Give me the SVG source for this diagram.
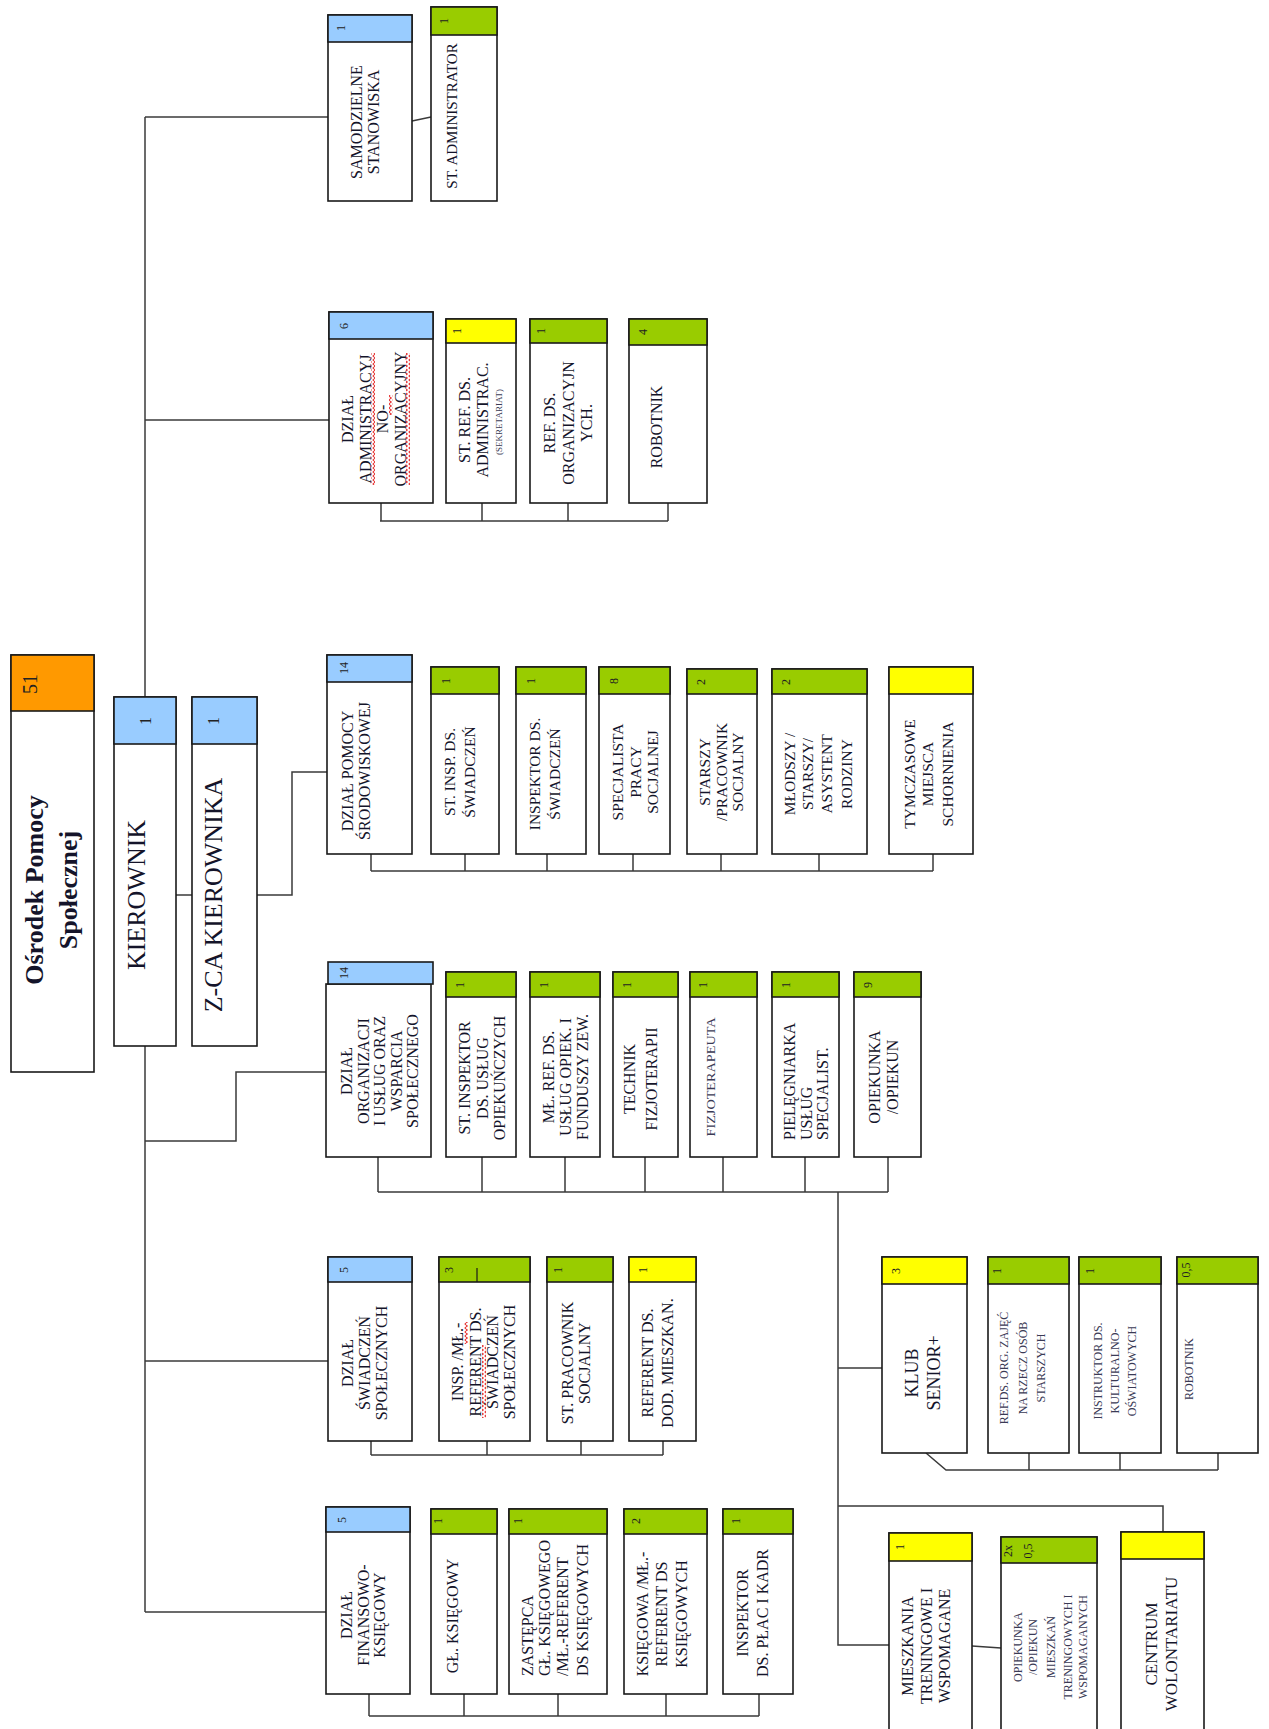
<svg xmlns="http://www.w3.org/2000/svg" width="1269" height="1729" viewBox="0 0 1269 1729">
<style>
.b{fill:#fff;stroke:#1a1a1a;stroke-width:1.6}
.hb{fill:#99ccff;stroke:#1a1a1a;stroke-width:1.6}
.hg{fill:#99cc00;stroke:#1a1a1a;stroke-width:1.6}
.hy{fill:#ffff00;stroke:#1a1a1a;stroke-width:1.6}
.ho{fill:#ff9900;stroke:#1a1a1a;stroke-width:1.6}
.t{font-family:"Liberation Serif","Times New Roman",serif;font-size:16px;fill:#14142a}
.s{font-family:"Liberation Serif","Times New Roman",serif;font-size:12px;fill:#3a3a55}
.n{font-family:"Liberation Serif","Times New Roman",serif;font-size:12px;fill:#222}
.c{fill:none;stroke:#3a3a3a;stroke-width:1.5}
.w{fill:url(#wavy)}
</style>
<defs>
<pattern id="wavy" width="4" height="4" patternUnits="userSpaceOnUse">
<path d="M0.5,0 L3.5,2 L0.5,4" fill="none" stroke="#e00000" stroke-width="0.9"/>
</pattern>
</defs>
<rect width="1269" height="1729" fill="#fff"/>

<g id="connectors">
<path class="c" d="M145,117 V1612"/>
<path class="c" d="M145,117 H328"/>
<path class="c" d="M412,121 L431,117"/>
<path class="c" d="M145,420 H329"/>
<path class="c" d="M176,895 H192"/>
<path class="c" d="M257,895 H292 V772 H327"/>
<path class="c" d="M145,1141 H236 V1072 H326"/>
<path class="c" d="M145,1361 H328"/>
<path class="c" d="M145,1612 H326"/>
<path class="c" d="M381,503 V521 M482,503 V521 M568,503 V521 M668,503 V521 M380,521 H668"/>
<path class="c" d="M371,854 V871 M465,854 V871 M547,854 V871 M633,854 V871 M721,854 V871 M819,854 V871 M933,854 V871 M371,871 H933"/>
<path class="c" d="M378,1157 V1192 M482,1157 V1192 M565,1157 V1192 M645,1157 V1192 M723,1157 V1192 M805,1157 V1192 M888,1157 V1192 M378,1192 H888"/>
<path class="c" d="M838,1192 V1645 H889"/>
<path class="c" d="M838,1368 H882"/>
<path class="c" d="M838,1506 H1163 V1532"/>
<path class="c" d="M972,1646 L1001,1648"/>
<path class="c" d="M926,1453 L946,1470 H1218 M1029,1453 V1470 M1120,1453 V1470 M1218,1453 V1470"/>
<path class="c" d="M371,1441 V1455 M487,1441 V1455 M581,1441 V1455 M663,1441 V1455 M371,1455 H663"/>
<path class="c" d="M369,1694 V1716 M464,1694 V1716 M558,1694 V1716 M666,1694 V1716 M759,1694 V1716 M369,1716 H759"/>
</g>

<g id="osrodek">
<rect class="b" x="11" y="655" width="83" height="417"/>
<rect class="ho" x="11" y="655" width="83" height="56"/>
<text class="n" style="font-size:20px" transform="translate(37,684) rotate(-90)" text-anchor="middle">51</text>
<text class="t" style="font-size:26px;font-weight:bold" transform="translate(43,890) rotate(-90)" text-anchor="middle"><tspan x="0" y="0">Ośrodek Pomocy</tspan><tspan x="0" y="34">Społecznej</tspan></text>
</g>

<g id="kierownik">
<rect class="b" x="114" y="697" width="62" height="349"/>
<rect class="hb" x="114" y="697" width="62" height="47"/>
<text class="n" style="font-size:16px" transform="translate(151,721) rotate(-90)" text-anchor="middle">1</text>
<text class="t" style="font-size:26px" transform="translate(145,895) rotate(-90)" text-anchor="middle">KIEROWNIK</text>
</g>

<g id="zca">
<rect class="b" x="192" y="697" width="65" height="349"/>
<rect class="hb" x="192" y="697" width="65" height="47"/>
<text class="n" style="font-size:16px" transform="translate(219,721) rotate(-90)" text-anchor="middle">1</text>
<text class="t" style="font-size:26px" transform="translate(222,895) rotate(-90)" text-anchor="middle">Z-CA KIEROWNIKA</text>
</g>

<g id="samodzielne">
<rect class="b" x="328" y="15" width="84" height="186"/>
<rect class="hb" x="328" y="15" width="84" height="27"/>
<text class="n" transform="translate(345,28) rotate(-90)" text-anchor="middle">1</text>
<text class="t" transform="translate(362,122) rotate(-90)" text-anchor="middle"><tspan x="0" y="0">SAMODZIELNE</tspan><tspan x="0" y="17">STANOWISKA</tspan></text>
</g>

<g id="st-administrator">
<rect class="b" x="431" y="7" width="66" height="194"/>
<rect class="hg" x="431" y="7" width="66" height="28"/>
<text class="n" transform="translate(448,21) rotate(-90)" text-anchor="middle">1</text>
<text class="t" style="font-size:15px" transform="translate(457,116) rotate(-90)" text-anchor="middle">ST. ADMINISTRATOR</text>
</g>

<g id="dzial-adm">
<rect class="b" x="329" y="312" width="104" height="191"/>
<rect class="hb" x="329" y="312" width="104" height="27"/>
<text class="n" transform="translate(348,326) rotate(-90)" text-anchor="middle">6</text>
<text class="t" transform="translate(353,419) rotate(-90)" text-anchor="middle"><tspan x="0" y="0">DZIAŁ</tspan><tspan x="0" y="17.7">ADMINISTRACYJ</tspan><tspan x="0" y="35.4">NO-</tspan><tspan x="0" y="53.1">ORGANIZACYJNY</tspan></text>
<rect class="w" x="371" y="353" width="4" height="132"/>
<rect class="w" x="389" y="395" width="4" height="20"/>
<rect class="w" x="406" y="353" width="4" height="132"/>
</g>

<g id="st-ref-adm">
<rect class="b" x="446" y="319" width="70" height="184"/>
<rect class="hy" x="446" y="319" width="70" height="24"/>
<text class="n" transform="translate(461,331) rotate(-90)" text-anchor="middle">1</text>
<text class="t" transform="translate(470,420) rotate(-90)" text-anchor="middle"><tspan x="0" y="0">ST. REF. DS.</tspan><tspan x="0" y="18">ADMINISTRAC.</tspan></text>
<text class="s" style="font-size:9px" transform="translate(502,422) rotate(-90)" text-anchor="middle">(SEKRETARIAT)</text>
</g>

<g id="ref-org">
<rect class="b" x="530" y="319" width="77" height="184"/>
<rect class="hg" x="530" y="319" width="77" height="24"/>
<text class="n" transform="translate(545,331) rotate(-90)" text-anchor="middle">1</text>
<text class="t" transform="translate(555,423) rotate(-90)" text-anchor="middle"><tspan x="0" y="0">REF. DS.</tspan><tspan x="0" y="18.5">ORGANIZACYJN</tspan><tspan x="0" y="37">YCH.</tspan></text>
</g>

<g id="robotnik-adm">
<rect class="b" x="629" y="319" width="78" height="184"/>
<rect class="hg" x="629" y="319" width="78" height="26"/>
<text class="n" transform="translate(647,332) rotate(-90)" text-anchor="middle">4</text>
<text class="t" transform="translate(662,427) rotate(-90)" text-anchor="middle">ROBOTNIK</text>
</g>

<g id="dzial-pomocy">
<rect class="b" x="327" y="655" width="85" height="199"/>
<rect class="hb" x="327" y="655" width="85" height="27"/>
<text class="n" transform="translate(348,668) rotate(-90)" text-anchor="middle">14</text>
<text class="t" transform="translate(353,771) rotate(-90)" text-anchor="middle"><tspan x="0" y="0">DZIAŁ POMOCY</tspan><tspan x="0" y="17">ŚRODOWISKOWEJ</tspan></text>
</g>

<g id="st-insp-swiadczen">
<rect class="b" x="431" y="667" width="68" height="187"/>
<rect class="hg" x="431" y="667" width="68" height="27"/>
<text class="n" transform="translate(450,681) rotate(-90)" text-anchor="middle">1</text>
<text class="t" style="font-size:15.5px" transform="translate(455,772) rotate(-90)" text-anchor="middle"><tspan x="0" y="0">ST. INSP. DS.</tspan><tspan x="0" y="20">ŚWIADCZEŃ</tspan></text>
</g>

<g id="inspektor-swiadczen">
<rect class="b" x="516" y="667" width="70" height="187"/>
<rect class="hg" x="516" y="667" width="70" height="27"/>
<text class="n" transform="translate(535,681) rotate(-90)" text-anchor="middle">1</text>
<text class="t" style="font-size:15.5px" transform="translate(540,774) rotate(-90)" text-anchor="middle"><tspan x="0" y="0">INSPEKTOR DS.</tspan><tspan x="0" y="20">ŚWIADCZEŃ</tspan></text>
</g>

<g id="specjalista">
<rect class="b" x="599" y="667" width="71" height="187"/>
<rect class="hg" x="599" y="667" width="71" height="27"/>
<text class="n" transform="translate(618,681) rotate(-90)" text-anchor="middle">8</text>
<text class="t" style="font-size:15.5px" transform="translate(623,772) rotate(-90)" text-anchor="middle"><tspan x="0" y="0">SPECJALISTA</tspan><tspan x="0" y="17.5">PRACY</tspan><tspan x="0" y="35">SOCJALNEJ</tspan></text>
</g>

<g id="starszy-pracownik">
<rect class="b" x="687" y="669" width="70" height="185"/>
<rect class="hg" x="687" y="669" width="70" height="25"/>
<text class="n" transform="translate(705,682) rotate(-90)" text-anchor="middle">2</text>
<text class="t" style="font-size:15.5px" transform="translate(710,772) rotate(-90)" text-anchor="middle"><tspan x="0" y="0">STARSZY</tspan><tspan x="0" y="16.5">/PRACOWNIK</tspan><tspan x="0" y="33">SOCJALNY</tspan></text>
</g>

<g id="asystent-rodziny">
<rect class="b" x="772" y="669" width="95" height="185"/>
<rect class="hg" x="772" y="669" width="95" height="25"/>
<text class="n" transform="translate(790,682) rotate(-90)" text-anchor="middle">2</text>
<text class="t" style="font-size:15.5px" transform="translate(795,774) rotate(-90)" text-anchor="middle"><tspan x="0" y="0">MŁODSZY /</tspan><tspan x="0" y="18">STARSZY/</tspan><tspan x="0" y="37">ASYSTENT</tspan><tspan x="0" y="57">RODZINY</tspan></text>
</g>

<g id="tymczasowe">
<rect class="b" x="889" y="667" width="84" height="187"/>
<rect class="hy" x="889" y="667" width="84" height="27"/>
<text class="t" style="font-size:15.5px" transform="translate(915,774) rotate(-90)" text-anchor="middle"><tspan x="0" y="0">TYMCZASOWE</tspan><tspan x="0" y="18">MIEJSCA</tspan><tspan x="0" y="38">SCHORNIENIA</tspan></text>
</g>

<g id="dzial-organizacji">
<rect class="b" x="326" y="984" width="105" height="173"/>
<rect class="hb" x="328" y="962" width="105" height="22"/>
<text class="n" transform="translate(348,973) rotate(-90)" text-anchor="middle">14</text>
<text class="t" transform="translate(352,1071) rotate(-90)" text-anchor="middle"><tspan x="0" y="0">DZIAŁ</tspan><tspan x="0" y="16.5">ORGANIZACJI</tspan><tspan x="0" y="33">I USŁUG  ORAZ</tspan><tspan x="0" y="49.5">WSPARCIA</tspan><tspan x="0" y="66">SPOŁECZNEGO</tspan></text>
</g>

<g id="st-inspektor-uslug">
<rect class="b" x="446" y="972" width="70" height="185"/>
<rect class="hg" x="446" y="972" width="70" height="25"/>
<text class="n" transform="translate(464,985) rotate(-90)" text-anchor="middle">1</text>
<text class="t" transform="translate(470,1078) rotate(-90)" text-anchor="middle"><tspan x="0" y="0">ST. INSPEKTOR</tspan><tspan x="0" y="17.5">DS. USŁUG</tspan><tspan x="0" y="35">OPIEKUŃCZYCH</tspan></text>
</g>

<g id="ml-ref-uslug">
<rect class="b" x="530" y="972" width="70" height="185"/>
<rect class="hg" x="530" y="972" width="70" height="25"/>
<text class="n" transform="translate(548,985) rotate(-90)" text-anchor="middle">1</text>
<text class="t" transform="translate(554,1077) rotate(-90)" text-anchor="middle"><tspan x="0" y="0">MŁ. REF. DS.</tspan><tspan x="0" y="17">USŁUG OPIEK. I</tspan><tspan x="0" y="34">FUNDUSZY ZEW.</tspan></text>
</g>

<g id="technik">
<rect class="b" x="613" y="972" width="65" height="185"/>
<rect class="hg" x="613" y="972" width="65" height="25"/>
<text class="n" transform="translate(631,985) rotate(-90)" text-anchor="middle">1</text>
<text class="t" transform="translate(635,1079) rotate(-90)" text-anchor="middle"><tspan x="0" y="0">TECHNIK</tspan><tspan x="0" y="22">FIZJOTERAPII</tspan></text>
</g>

<g id="fizjoterapeuta">
<rect class="b" x="690" y="972" width="67" height="185"/>
<rect class="hg" x="690" y="972" width="67" height="25"/>
<text class="n" transform="translate(707,985) rotate(-90)" text-anchor="middle">1</text>
<text class="s" transform="translate(715,1077) rotate(-90)" text-anchor="middle" textLength="119" lengthAdjust="spacingAndGlyphs">FIZJOTERAPEUTA</text>
</g>

<g id="pielegniarka">
<rect class="b" x="772" y="972" width="67" height="185"/>
<rect class="hg" x="772" y="972" width="67" height="25"/>
<text class="n" transform="translate(790,985) rotate(-90)" text-anchor="middle">1</text>
<text class="t" transform="translate(795,1140) rotate(-90)" text-anchor="start"><tspan x="0" y="0">PIELĘGNIARKA</tspan><tspan x="0" y="16.5">USŁUG</tspan><tspan x="0" y="33">SPECJALIST.</tspan></text>
</g>

<g id="opiekunka">
<rect class="b" x="854" y="972" width="67" height="185"/>
<rect class="hg" x="854" y="972" width="67" height="25"/>
<text class="n" transform="translate(872,985) rotate(-90)" text-anchor="middle">9</text>
<text class="t" transform="translate(880,1077) rotate(-90)" text-anchor="middle"><tspan x="0" y="0">OPIEKUNKA</tspan><tspan x="0" y="18">/OPIEKUN</tspan></text>
</g>

<g id="dzial-swiadczen">
<rect class="b" x="328" y="1257" width="84" height="184"/>
<rect class="hb" x="328" y="1257" width="84" height="25"/>
<text class="n" transform="translate(348,1270) rotate(-90)" text-anchor="middle">5</text>
<text class="t" transform="translate(353,1363) rotate(-90)" text-anchor="middle"><tspan x="0" y="0">DZIAŁ</tspan><tspan x="0" y="17">ŚWIADCZEŃ</tspan><tspan x="0" y="34">SPOŁECZNYCH</tspan></text>
</g>

<g id="insp-ml-referent">
<rect class="b" x="439" y="1257" width="91" height="184"/>
<rect class="hg" x="439" y="1257" width="91" height="25"/>
<path d="M477,1268 V1282" stroke="#1a1a1a" stroke-width="1.2"/>
<text class="n" transform="translate(453,1270) rotate(-90)" text-anchor="middle">3</text>
<text class="t" transform="translate(463,1362) rotate(-90)" text-anchor="middle"><tspan x="0" y="0">INSP. /MŁ.-</tspan><tspan x="0" y="18">REFERENT DS.</tspan><tspan x="0" y="35">ŚWIADCZEŃ</tspan><tspan x="0" y="52">SPOŁECZNYCH</tspan></text>
<rect class="w" x="464" y="1322" width="4" height="22"/>
<rect class="w" x="482" y="1345" width="4" height="73"/>
</g>

<g id="st-pracownik">
<rect class="b" x="547" y="1257" width="66" height="184"/>
<rect class="hg" x="547" y="1257" width="66" height="25"/>
<text class="n" transform="translate(562,1270) rotate(-90)" text-anchor="middle">1</text>
<text class="t" transform="translate(573,1363) rotate(-90)" text-anchor="middle"><tspan x="0" y="0">ST. PRACOWNIK</tspan><tspan x="0" y="17">SOCJALNY</tspan></text>
</g>

<g id="referent-mieszkan">
<rect class="b" x="629" y="1257" width="67" height="184"/>
<rect class="hy" x="629" y="1257" width="67" height="25"/>
<text class="n" transform="translate(647,1270) rotate(-90)" text-anchor="middle">1</text>
<text class="t" transform="translate(653,1363) rotate(-90)" text-anchor="middle"><tspan x="0" y="0">REFERENT DS.</tspan><tspan x="0" y="20">DOD. MIESZKAN.</tspan></text>
</g>

<g id="klub-senior">
<rect class="b" x="882" y="1257" width="85" height="196"/>
<rect class="hy" x="882" y="1257" width="85" height="27"/>
<text class="n" transform="translate(900,1271) rotate(-90)" text-anchor="middle">3</text>
<text class="t" style="font-size:18px" transform="translate(918,1373) rotate(-90)" text-anchor="middle"><tspan x="0" y="0">KLUB</tspan><tspan x="0" y="22">SENIOR+</tspan></text>
</g>

<g id="ref-zajec">
<rect class="b" x="988" y="1257" width="81" height="196"/>
<rect class="hg" x="988" y="1257" width="81" height="27"/>
<text class="n" transform="translate(1001,1271) rotate(-90)" text-anchor="middle">1</text>
<text class="s" transform="translate(1008,1368) rotate(-90)" text-anchor="middle"><tspan x="0" y="0">REF.DS. ORG. ZAJĘĆ</tspan><tspan x="0" y="19">NA RZECZ OSÓB</tspan><tspan x="0" y="37">STARSZYCH</tspan></text>
</g>

<g id="instruktor">
<rect class="b" x="1079" y="1257" width="82" height="196"/>
<rect class="hg" x="1079" y="1257" width="82" height="27"/>
<text class="n" transform="translate(1094,1271) rotate(-90)" text-anchor="middle">1</text>
<text class="s" transform="translate(1102,1371) rotate(-90)" text-anchor="middle"><tspan x="0" y="0">INSTRUKTOR DS.</tspan><tspan x="0" y="16.5">KULTURALNO-</tspan><tspan x="0" y="34">OŚWIATOWYCH</tspan></text>
</g>

<g id="robotnik-klub">
<rect class="b" x="1177" y="1257" width="81" height="196"/>
<rect class="hg" x="1177" y="1257" width="81" height="27"/>
<text class="n" transform="translate(1190,1270) rotate(-90)" text-anchor="middle">0,5</text>
<text class="s" transform="translate(1193,1369) rotate(-90)" text-anchor="middle">ROBOTNIK</text>
</g>

<g id="dzial-finansowy">
<rect class="b" x="326" y="1507" width="84" height="187"/>
<rect class="hb" x="326" y="1507" width="84" height="25"/>
<text class="n" transform="translate(346,1520) rotate(-90)" text-anchor="middle">5</text>
<text class="t" transform="translate(352,1615) rotate(-90)" text-anchor="middle"><tspan x="0" y="0">DZIAŁ</tspan><tspan x="0" y="16.5">FINANSOWO-</tspan><tspan x="0" y="33">KSIĘGOWY</tspan></text>
</g>

<g id="gl-ksiegowy">
<rect class="b" x="431" y="1509" width="66" height="185"/>
<rect class="hg" x="431" y="1509" width="66" height="25"/>
<text class="n" transform="translate(442,1521) rotate(-90)" text-anchor="middle">1</text>
<text class="t" transform="translate(458,1616) rotate(-90)" text-anchor="middle">GŁ. KSIĘGOWY</text>
</g>

<g id="zastepca">
<rect class="b" x="509" y="1509" width="98" height="185"/>
<rect class="hg" x="509" y="1509" width="98" height="25"/>
<text class="n" transform="translate(522,1521) rotate(-90)" text-anchor="middle">1</text>
<text class="t" transform="translate(533,1676) rotate(-90)" text-anchor="start"><tspan x="0" y="0">ZASTĘPCA</tspan><tspan x="0" y="17">GŁ. KSIĘGOWEGO</tspan><tspan x="0" y="35">/MŁ.-REFERENT</tspan><tspan x="0" y="55">DS KSIĘGOWYCH</tspan></text>
</g>

<g id="ksiegowa">
<rect class="b" x="624" y="1509" width="83" height="185"/>
<rect class="hg" x="624" y="1509" width="83" height="25"/>
<text class="n" transform="translate(640,1521) rotate(-90)" text-anchor="middle">2</text>
<text class="t" transform="translate(648,1614) rotate(-90)" text-anchor="middle"><tspan x="0" y="0">KSIĘGOWA /MŁ.-</tspan><tspan x="0" y="19">REFERENT DS</tspan><tspan x="0" y="39">KSIĘGOWYCH</tspan></text>
</g>

<g id="inspektor-plac">
<rect class="b" x="723" y="1509" width="70" height="185"/>
<rect class="hg" x="723" y="1509" width="70" height="25"/>
<text class="n" transform="translate(740,1521) rotate(-90)" text-anchor="middle">1</text>
<text class="t" transform="translate(748,1613) rotate(-90)" text-anchor="middle"><tspan x="0" y="0">INSPEKTOR</tspan><tspan x="0" y="20">DS. PŁAC I KADR</tspan></text>
</g>

<g id="mieszkania">
<rect class="b" x="889" y="1533" width="83" height="210"/>
<rect class="hy" x="889" y="1533" width="83" height="28"/>
<text class="n" transform="translate(904,1547) rotate(-90)" text-anchor="middle">1</text>
<text class="t" transform="translate(913,1646) rotate(-90)" text-anchor="middle"><tspan x="0" y="0">MIESZKANIA</tspan><tspan x="0" y="19">TRENINGOWE I</tspan><tspan x="0" y="37">WSPOMAGANE</tspan></text>
</g>

<g id="opiekun-mieszkan">
<rect class="b" x="1001" y="1537" width="96" height="206"/>
<rect class="hg" x="1001" y="1537" width="96" height="26"/>
<text class="n" transform="translate(1012,1551) rotate(-90)" text-anchor="middle">2x</text>
<text class="n" transform="translate(1032,1551) rotate(-90)" text-anchor="middle">0,5</text>
<text class="s" transform="translate(1022,1647) rotate(-90)" text-anchor="middle"><tspan x="0" y="0">OPIEKUNKA</tspan><tspan x="0" y="15">/OPIEKUN</tspan><tspan x="0" y="33">MIESZKAŃ</tspan><tspan x="0" y="50">TRENINGOWYCH I</tspan><tspan x="0" y="65">WSPOMAGANYCH</tspan></text>
</g>

<g id="centrum-wolontariatu">
<rect class="b" x="1121" y="1532" width="83" height="211"/>
<rect class="hy" x="1121" y="1532" width="83" height="27"/>
<text class="t" style="font-size:17px" transform="translate(1157,1644) rotate(-90)" text-anchor="middle"><tspan x="0" y="0">CENTRUM</tspan><tspan x="0" y="20">WOLONTARIATU</tspan></text>
</g>
</svg>
